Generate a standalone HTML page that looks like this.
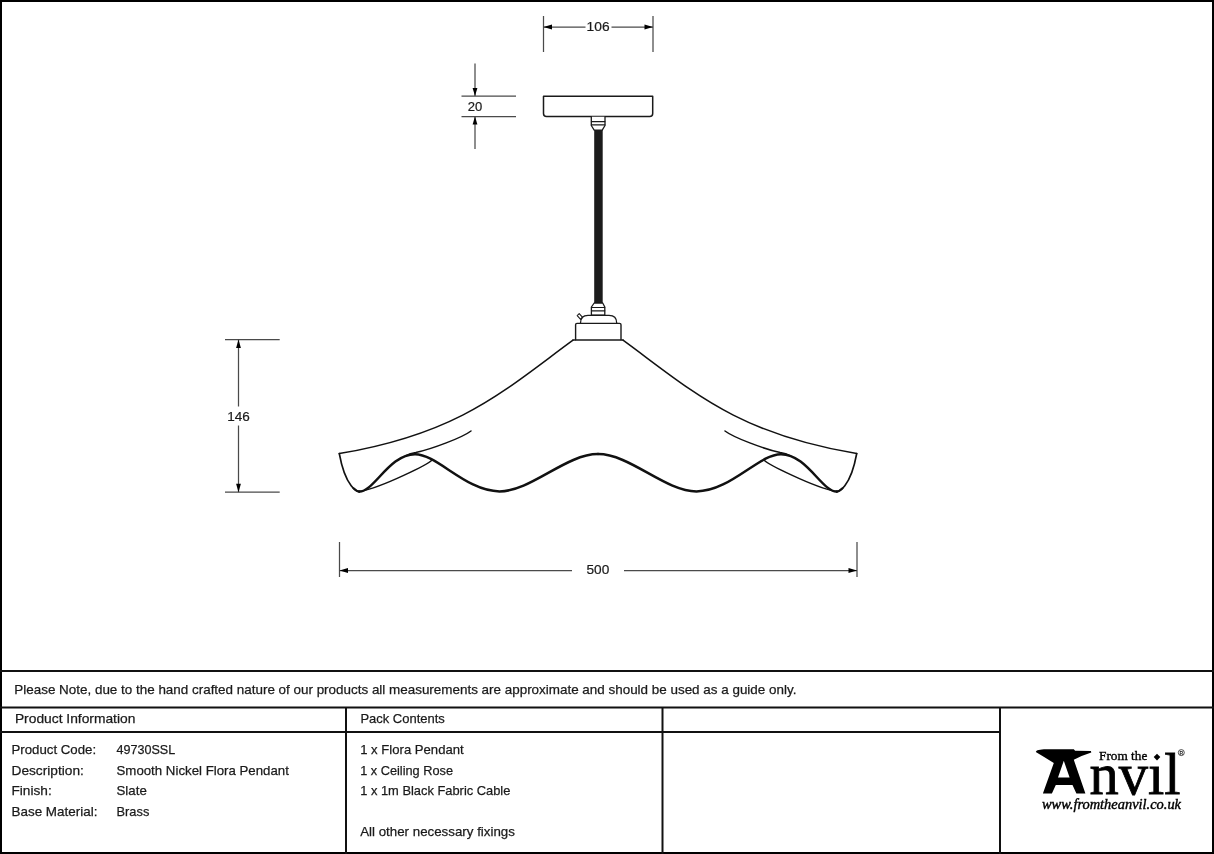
<!DOCTYPE html>
<html><head><meta charset="utf-8">
<style>
html,body{margin:0;padding:0;background:#fff;}
body{width:1214px;height:854px;overflow:hidden;position:relative;}
svg{position:absolute;left:0;top:0;will-change:transform;}
.t{font-family:"Liberation Sans",sans-serif;font-size:13.5px;fill:#1a1a1a;stroke:#1a1a1a;stroke-width:0.25px;}
.d{font-family:"Liberation Sans",sans-serif;font-size:12.8px;fill:#1a1a1a;stroke:#1a1a1a;stroke-width:0.2px;}
</style></head>
<body>
<svg width="1214" height="854" viewBox="0 0 1214 854">
<!-- frame -->
<rect x="1" y="1" width="1212" height="852" fill="none" stroke="#000" stroke-width="2"/>
<line x1="0" y1="671" x2="1214" y2="671" stroke="#111" stroke-width="2"/>
<line x1="0" y1="707.5" x2="1214" y2="707.5" stroke="#111" stroke-width="2"/>
<line x1="0" y1="732" x2="1000" y2="732" stroke="#111" stroke-width="2"/>
<line x1="346" y1="707" x2="346" y2="854" stroke="#111" stroke-width="2"/>
<line x1="662.5" y1="707" x2="662.5" y2="854" stroke="#111" stroke-width="2"/>
<line x1="1000" y1="707" x2="1000" y2="854" stroke="#111" stroke-width="2"/>

<!-- texts -->
<text class="t" x="14.3" y="693.8" textLength="782.1" lengthAdjust="spacingAndGlyphs">Please Note, due to the hand crafted nature of our products all measurements are approximate and should be used as a guide only.</text>
<text class="t" x="14.9" y="723.3" textLength="120.5" lengthAdjust="spacingAndGlyphs">Product Information</text>
<text class="t" x="360.4" y="723.2" textLength="84.4" lengthAdjust="spacingAndGlyphs">Pack Contents</text>
<text class="t" x="11.5" y="754.3" textLength="84.6" lengthAdjust="spacingAndGlyphs">Product Code:</text>
<text class="t" x="11.5" y="774.8" textLength="72.3" lengthAdjust="spacingAndGlyphs">Description:</text>
<text class="t" x="11.5" y="795.3" textLength="40.2" lengthAdjust="spacingAndGlyphs">Finish:</text>
<text class="t" x="11.5" y="816" textLength="85.9" lengthAdjust="spacingAndGlyphs">Base Material:</text>
<text class="t" x="116.5" y="754.3" textLength="58.7" lengthAdjust="spacingAndGlyphs">49730SSL</text>
<text class="t" x="116.5" y="774.8" textLength="172.4" lengthAdjust="spacingAndGlyphs">Smooth Nickel Flora Pendant</text>
<text class="t" x="116.5" y="795.3" textLength="30.3" lengthAdjust="spacingAndGlyphs">Slate</text>
<text class="t" x="116.5" y="816" textLength="32.8" lengthAdjust="spacingAndGlyphs">Brass</text>
<text class="t" x="360.2" y="754.4" textLength="103.5" lengthAdjust="spacingAndGlyphs">1 x Flora Pendant</text>
<text class="t" x="360.2" y="774.8" textLength="92.8" lengthAdjust="spacingAndGlyphs">1 x Ceiling Rose</text>
<text class="t" x="360.2" y="795.2" textLength="150.2" lengthAdjust="spacingAndGlyphs">1 x 1m Black Fabric Cable</text>
<text class="t" x="360.2" y="836.4" textLength="154.7" lengthAdjust="spacingAndGlyphs">All other necessary fixings</text>

<!-- dimension lines -->
<g stroke="#4a4a4a" stroke-width="1.25" fill="none">
  <line x1="543.5" y1="16" x2="543.5" y2="52"/>
  <line x1="653" y1="16" x2="653" y2="52"/>
  <line x1="543.5" y1="27" x2="585.5" y2="27"/>
  <line x1="611.5" y1="27" x2="653" y2="27"/>
  <line x1="461.5" y1="96" x2="516" y2="96"/>
  <line x1="461.5" y1="116.5" x2="516" y2="116.5"/>
  <line x1="475" y1="63.5" x2="475" y2="96"/>
  <line x1="475" y1="116.5" x2="475" y2="149"/>
  <line x1="225" y1="339.6" x2="279.7" y2="339.6"/>
  <line x1="225" y1="492.2" x2="279.7" y2="492.2"/>
  <line x1="238.5" y1="339.6" x2="238.5" y2="406.5"/>
  <line x1="238.5" y1="425.5" x2="238.5" y2="492.2"/>
  <line x1="339.5" y1="542" x2="339.5" y2="577"/>
  <line x1="857" y1="542" x2="857" y2="577"/>
  <line x1="339.5" y1="570.5" x2="572" y2="570.5"/>
  <line x1="624" y1="570.5" x2="857" y2="570.5"/>
</g>
<g fill="#000">
  <path d="M543.5,27 L552,24.6 L552,29.4Z"/>
  <path d="M653,27 L644.5,24.6 L644.5,29.4Z"/>
  <path d="M475,96 L472.6,88 L477.4,88Z"/>
  <path d="M475,116.5 L472.6,124.5 L477.4,124.5Z"/>
  <path d="M238.5,339.6 L236.1,348 L240.9,348Z"/>
  <path d="M238.5,492.2 L236.1,483.8 L240.9,483.8Z"/>
  <path d="M339.5,570.5 L348,568.1 L348,572.9Z"/>
  <path d="M857,570.5 L848.5,568.1 L848.5,572.9Z"/>
</g>
<text class="d" x="586.6" y="31.2" textLength="23" lengthAdjust="spacingAndGlyphs">106</text>
<text class="d" x="467.8" y="110.7" textLength="14.5" lengthAdjust="spacingAndGlyphs">20</text>
<text class="d" x="227.2" y="420.7" textLength="22.6" lengthAdjust="spacingAndGlyphs">146</text>
<text class="d" x="586.5" y="574.2" textLength="22.8" lengthAdjust="spacingAndGlyphs">500</text>

<!-- pendant -->
<g fill="none" stroke="#1a1a1a" stroke-linejoin="round" stroke-linecap="round">
  <!-- ceiling rose -->
  <path d="M543.5,96.3 L652.7,96.3 L652.7,113.6 Q652.7,116.6 649.7,116.6 L546.5,116.6 Q543.5,116.6 543.5,113.6 Z" stroke-width="1.5"/>
  <!-- grip top -->
  <path d="M591.3,116.7 L591.3,125.5 L594.2,130.2 L602.2,130.2 L605,125.5 L605,116.7" stroke-width="1.3" fill="#fff"/>
  <line x1="591.5" y1="121.6" x2="604.8" y2="121.6" stroke-width="1.3"/>
  <line x1="591.5" y1="124.8" x2="604.8" y2="124.8" stroke-width="1.3"/>
  <!-- cable -->
  <rect x="594.2" y="130" width="8.5" height="173.5" fill="#1c1c1c" stroke="none"/>
  <!-- grip bottom -->
  <path d="M594.2,303 L591.4,307 L591.4,315.2 L604.8,315.2 L604.8,307 L602.7,303 Z" stroke-width="1.3" fill="#fff"/>
  <line x1="591.5" y1="307.5" x2="604.7" y2="307.5" stroke-width="1.2"/>
  <line x1="591.5" y1="310.8" x2="604.7" y2="310.8" stroke-width="1.2"/>
  <!-- dome -->
  <path d="M580.5,323 Q580.5,315.4 588,315.4 L609,315.4 Q616.7,315.4 616.7,323" stroke-width="1.3"/>
  <!-- switch nub -->
  <path d="M577.2,315.6 L579.2,313.6 L582.6,317.4 L580.6,319.4 Z" stroke-width="1.1"/>
  <!-- body -->
  <path d="M575.6,339.8 L575.6,324.8 Q575.6,323.4 577,323.4 L619.6,323.4 Q621,323.4 621,324.8 L621,339.8" stroke-width="1.4"/>
  <line x1="573" y1="340" x2="623.1" y2="340" stroke-width="1.6"/>
</g>
<g id="halfL" fill="none" stroke="#111" stroke-linecap="round" stroke-linejoin="round">
  <path d="M573,340.2 C504.2,390.5 459.9,433.4 339.3,453.6" stroke-width="1.5"/>
  <path d="M339.3,453.6 C345.7,488.5 357.9,491.6 359.4,491.6" stroke-width="1.7"/>
  <path d="M353.52,488.28 C356.49,491.1 358.8,491.6 359.4,491.6" stroke-width="2.1"/>
  <path d="M359.4,491.6 C374.1,491.6 389.4,454.2 415,454.2 C437.2,454.2 466.1,491.4 499.5,491.4 C531,491.4 565.8,454.1 598,454.1" stroke-width="2.5"/>
  <path d="M406,455.6 Q410,453.6 415.8,452.6 C432.2,448.9 462.1,437.7 471,431" stroke-width="1.5"/>
  <path d="M359.4,491.6 C384.5,486.6 428.4,463.6 431.5,460.4" stroke-width="1.45"/>
</g>
<use href="#halfL" transform="translate(1196,0) scale(-1,1)"/>

<!-- logo -->
<g id="logo">
  <path fill-rule="evenodd" fill="#000" d="M1035.8,752.1 C1036,750 1040,749.4 1046.1,749.2 L1073.8,749.2 L1075.1,750.8 L1090.9,751.1 L1091.3,752.6 Q1082,755.5 1073.8,759.8 L1085.4,793.6 L1076.4,793.6 L1072.5,784.9 L1055.8,784.9 L1051.9,793.6 L1042.9,793.6 L1053.8,763 Q1044,757 1035.8,752.1 Z M1063.8,760.8 L1069.6,777.5 L1058,777.5 Z"/>
  <text x="1099" y="759.8" style="font-family:'Liberation Serif',serif;font-size:13px;fill:#000;stroke:#000;stroke-width:0.35" textLength="48.3" lengthAdjust="spacingAndGlyphs">From the</text>
  <text x="1089.5" y="794" style="font-family:'Liberation Serif',serif;font-size:59px;fill:#000;stroke:#000;stroke-width:0.8" textLength="91" lengthAdjust="spacingAndGlyphs">nvıl</text>
  <path d="M1157,753.8 L1160.3,757.1 L1157,760.4 L1153.7,757.1 Z" fill="#000"/>
  <circle cx="1181.3" cy="752.6" r="3" fill="none" stroke="#222" stroke-width="0.8"/>
  <text x="1179.6" y="754.5" style="font-family:'Liberation Sans',sans-serif;font-size:5px;font-weight:bold;fill:#222">R</text>
  <text x="1042" y="808.5" style="font-family:'Liberation Serif',serif;font-style:italic;font-size:14px;fill:#000;stroke:#000;stroke-width:0.4" textLength="139" lengthAdjust="spacingAndGlyphs">www.fromtheanvil.co.uk</text>
</g>
</svg>
</body></html>
